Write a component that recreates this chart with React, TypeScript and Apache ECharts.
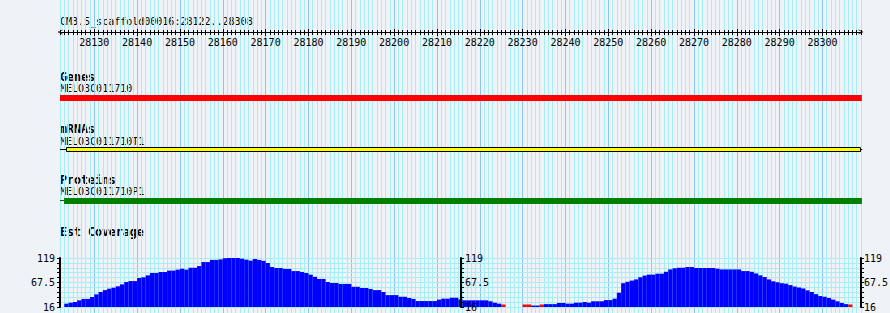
import React, { useEffect, useRef } from 'react';
import * as echarts from 'echarts';

// ---- data ----
const VIEW_START = 28122;
const VIEW_END = 28309;
const rulerTitle = 'CM3.5_scaffold00016:28122..28308';
const rulerMajorStart = 28130;
const rulerMajorEnd = 28300;
const rulerMajorStep = 10;

const coverageMin = 16;
const coverageMax = 119;
const coverageStep = 10.3;
const coverageLabels = ['16', '67.5', '119'];

// EST coverage, one value per bp starting at VIEW_START (null = no data, < min = under range)
const coverage: (number | null)[] = [
  null, 23, 25, 26.5, 30, 33, 33, 37, 42.5, 47.5,
  51.5, 54.5, 56.5, 59.5, 63.5, 68.5, 70.5, 70.5, 77, 78.5,
  82.5, 87.5, 87.5, 89.5, 89.5, 92.5, 92.5, 94.5, 96.5, 94.5,
  98.5, 98.5, 102, 110.5, 110.5, 115, 115, 116, 118.5, 119,
  119, 119, 117.5, 115.5, 113.5, 117, 115, 113, 108.5, 100,
  98, 98, 96, 96, 91.5, 91.5, 89.5, 87.5, 84, 79.5,
  75, 75, 68.5, 66.5, 66.5, 64.5, 64.5, 64.5, 58.5, 58.5,
  56, 56, 54, 51.5, 51.5, 47.5, 41, 41, 41, 37.5,
  37.5, 35, 33, 28.5, 28.5, 28.5, 28.5, 28.5, 31.5, 33.5,
  33.5, 35.5, 35.5, 32, 30, 30, 30, 30, 30, 30,
  28, 25, 23, 10, null, null, null, null, 10, 10,
  19, 19, 10, 22, 22, 22, 24.5, 24.5, 23, 23,
  25, 25, 26.5, 25, 28, 28, 28, 30.5, 30.5, 33.5,
  46, 66, 69, 71.5, 74, 78.5, 82, 84, 84, 86,
  86, 90, 95, 97.5, 98.5, 98.5, 100, 100, 98, 98,
  98, 98, 98, 96.5, 95, 95, 95, 95, 95, 91.5,
  91.5, 90, 86.5, 82.5, 79, 74, 70, 68, 66, 65,
  62, 59, 57, 55, 51, 47.5, 43, 39, 37.5, 35,
  31.5, 28, 24.5, 22, 10, null, null,
];

const geneNames = ['MELO3C011710'];
const geneSpans = [[28122, 28309.2]];
const mrnaNames = ['MELO3C011710T1'];
const mrnaSpans = [[28122, 28309.3]];
const mrnaExons = [[28123.4, 28309]];
const proteinNames = ['MELO3C011710P1'];
const proteinSpans = [[28122, 28309.2]];
const proteinCds = [[28122.95, 28309.2]];

// ---- layout / style ----
const W = 890;
const H = 313;
const PLOT_LEFT = 60;
const PLOT_WIDTH = 801;
const PX_PER_BP = PLOT_WIDTH / (VIEW_END - VIEW_START);
const RULER_Y = 32;
const GENE_Y = 95;
const MRNA_Y = 147;
const PROT_Y = 198;
const COV_TOP = 258;
const COV_H = 49;

const BG = '#eff3f8';
const MINOR = '#a6eef3';
const MAJOR = '#8cc6ee';
const FONT = '"DejaVu Sans Mono", monospace';

const App: React.FC = () => {
  const ref = useRef<HTMLDivElement>(null);
  useEffect(() => {
    if (!ref.current) return;
    const chart = echarts.init(ref.current, undefined, { renderer: 'svg' });

    const gridBase = { left: PLOT_LEFT, width: PLOT_WIDTH, outerBoundsMode: 'none', containLabel: false };
    const majorLeft = PLOT_LEFT + (rulerMajorStart - VIEW_START) * PX_PER_BP;
    const majorWidth = (rulerMajorEnd - rulerMajorStart) * PX_PER_BP;

    const splitColors: string[] = [];
    for (let k = 0; k < 10; k++) splitColors.push(((VIEW_START + k) % 10 === 0) ? MAJOR : MINOR);

    const hiddenLine = { show: false, onZero: false };
    const hidden = { show: false };
    const chevron = 'path://M0,10L5,0L10,10L8.6,10L5,2.8L1.4,10Z';

    const grids: any[] = [
      { ...gridBase, top: 0, height: H }, // 0 background / features
      { ...gridBase, top: RULER_Y, height: 100 }, // 1 ruler line
      { ...gridBase, top: RULER_Y, height: 100 }, // 2 minor up
      { ...gridBase, top: RULER_Y, height: 100 }, // 3 minor down
      { left: majorLeft, width: majorWidth, top: RULER_Y, height: 100, outerBoundsMode: 'none' }, // 4 major up
      { left: majorLeft, width: majorWidth, top: RULER_Y, height: 100, outerBoundsMode: 'none' }, // 5 major down + labels
      { ...gridBase, top: COV_TOP, height: COV_H }, // 6 coverage
    ];

    const baseX = (gridIndex: number, extra: any) => ({
      type: 'value', gridIndex, min: VIEW_START, max: VIEW_END,
      axisLine: hiddenLine, axisTick: hidden, axisLabel: hidden, splitLine: hidden,
      ...extra,
    });

    const xAxes: any[] = [
      baseX(0, {
        interval: 1,
        splitLine: { show: true, lineStyle: { color: splitColors, width: 1 } },
      }),
      baseX(1, {
        position: 'top',
        axisLine: {
          show: true, onZero: false, symbol: [chevron, chevron], symbolSize: [8, 5],
          lineStyle: { color: '#000', width: 1 },
        },
      }),
      baseX(2, { position: 'top', interval: 1, axisTick: { show: true, length: 2, inside: false, lineStyle: { color: '#000' } } }),
      baseX(3, { position: 'top', interval: 1, axisTick: { show: true, length: 3, inside: true, lineStyle: { color: '#000' } } }),
      {
        type: 'value', gridIndex: 4, position: 'top', min: rulerMajorStart, max: rulerMajorEnd, interval: rulerMajorStep,
        axisLine: hiddenLine, axisLabel: hidden, splitLine: hidden,
        axisTick: { show: true, length: 3, inside: false, lineStyle: { color: '#000' } },
      },
      {
        type: 'value', gridIndex: 5, position: 'top', min: rulerMajorStart, max: rulerMajorEnd, interval: rulerMajorStep,
        axisLine: hiddenLine, splitLine: hidden,
        axisTick: { show: true, length: 4, inside: true, lineStyle: { color: '#000' } },
        axisLabel: {
          show: true, inside: true, margin: 5, color: '#000', fontFamily: 'DejaVu Sans Mono', fontSize: 10,
          formatter: (v: number) => String(v),
        },
      },
      baseX(6, {}),
    ];

    const covLabel = (v: number) => {
      const found = coverageLabels.find((l) => Math.abs(parseFloat(l) - v) < 0.01);
      return found || '';
    };
    const covAxisBase = {
      type: 'value', gridIndex: 6, min: coverageMin, max: coverageMax, interval: coverageStep,
      axisLine: { show: true, onZero: false, lineStyle: { color: '#000', width: 2 } },
      axisTick: { show: true, length: 3, lineStyle: { color: '#000' } },
      axisLabel: {
        show: true, color: '#000', fontFamily: 'DejaVu Sans Mono', fontSize: 10,
        formatter: covLabel, showMinLabel: true, showMaxLabel: true,
      },
    };

    const yAxes: any[] = [
      { type: 'value', gridIndex: 0, min: 0, max: H, inverse: true, show: false },
      { type: 'value', gridIndex: 1, min: 0, max: 1, show: false },
      { type: 'value', gridIndex: 2, min: 0, max: 1, show: false },
      { type: 'value', gridIndex: 3, min: 0, max: 1, show: false },
      { type: 'value', gridIndex: 4, min: 0, max: 1, show: false },
      { type: 'value', gridIndex: 5, min: 0, max: 1, show: false },
      {
        ...covAxisBase, position: 'left', z: 1,
        axisLabel: { ...covAxisBase.axisLabel, margin: 5 },
        splitLine: { show: true, lineStyle: { color: MINOR, width: 1 } },
      },
      {
        ...covAxisBase, position: 'right', offset: -(PLOT_WIDTH / 2 - 0.5), z: 5,
        axisLabel: { ...covAxisBase.axisLabel, margin: 4 },
        splitLine: hidden,
      },
      {
        ...covAxisBase, position: 'right', offset: 0, z: 5,
        axisLabel: { ...covAxisBase.axisLabel, margin: 3 },
        splitLine: hidden,
      },
    ];

    const xOf = (api: any, v: number) => api.coord([v, 0])[0];

    const series: any[] = [
      {
        type: 'custom', xAxisIndex: 0, yAxisIndex: 0, clip: false, silent: true,
        data: geneSpans.map((s) => [s[0], s[1]]),
        renderItem: (_p: any, api: any) => {
          const a = xOf(api, api.value(0));
          const b = xOf(api, api.value(1));
          return { type: 'rect', shape: { x: a, y: GENE_Y, width: b - a, height: 6 }, style: { fill: '#ff0000' } };
        },
      },
      {
        type: 'custom', xAxisIndex: 0, yAxisIndex: 0, clip: false, silent: true,
        data: mrnaSpans.map((s, i) => [s[0], s[1], mrnaExons[i][0], mrnaExons[i][1]]),
        renderItem: (_p: any, api: any) => {
          const a = xOf(api, api.value(0));
          const b = xOf(api, api.value(1));
          const c = xOf(api, api.value(2));
          const d = xOf(api, api.value(3));
          return {
            type: 'group',
            children: [
              { type: 'line', shape: { x1: a, y1: MRNA_Y + 2.5, x2: b, y2: MRNA_Y + 2.5 }, style: { stroke: '#000', lineWidth: 1 } },
              { type: 'rect', shape: { x: c + 0.5, y: MRNA_Y + 0.5, width: d - c - 1, height: 4 }, style: { fill: '#ffff00', stroke: '#000', lineWidth: 1 } },
            ],
          };
        },
      },
      {
        type: 'custom', xAxisIndex: 0, yAxisIndex: 0, clip: false, silent: true,
        data: proteinSpans.map((s, i) => [s[0], s[1], proteinCds[i][0], proteinCds[i][1]]),
        renderItem: (_p: any, api: any) => {
          const a = xOf(api, api.value(0));
          const b = xOf(api, api.value(1));
          const c = xOf(api, api.value(2));
          const d = xOf(api, api.value(3));
          return {
            type: 'group',
            children: [
              { type: 'line', shape: { x1: a, y1: PROT_Y + 2.5, x2: b, y2: PROT_Y + 2.5 }, style: { stroke: '#006400', lineWidth: 1 } },
              { type: 'rect', shape: { x: c, y: PROT_Y, width: d - c, height: 6 }, style: { fill: '#008000' } },
            ],
          };
        },
      },
      {
        type: 'custom', xAxisIndex: 6, yAxisIndex: 6, clip: true, silent: true, z: 2,
        encode: { x: 0, y: 1 },
        data: coverage.map((v, i) => [VIEW_START + i, v]).filter((d) => d[1] !== null),
        renderItem: (_p: any, api: any) => {
          const pos = api.value(0);
          const v = api.value(1);
          const x0 = api.coord([pos, coverageMin])[0];
          const x1 = api.coord([pos + 1, coverageMin])[0];
          const yb = api.coord([pos, coverageMin])[1];
          if (v < coverageMin) {
            return { type: 'rect', shape: { x: x0, y: yb - 2.5, width: x1 - x0, height: 2.5 }, style: { fill: '#ff0000' } };
          }
          const yt = api.coord([pos, v])[1];
          return { type: 'rect', shape: { x: x0, y: yt, width: x1 - x0, height: yb - yt }, style: { fill: '#0000ff' } };
        },
      },
    ];

    const txt = (text: string, y: number, bold: boolean) => ({
      type: 'text', x: PLOT_LEFT, y, silent: true,
      style: {
        text, fill: '#000',
        font: bold ? `bold 11.6px ${FONT}` : `10px ${FONT}`,
        verticalAlign: 'middle', align: 'left',
      },
    });

    chart.setOption({
      animation: false,
      backgroundColor: BG,
      grid: grids,
      xAxis: xAxes,
      yAxis: yAxes,
      series,
      graphic: [
        txt(rulerTitle, 21, false),
        txt('Genes', 76.5, true),
        txt(geneNames[0], 88.5, false),
        txt('mRNAs', 129, true),
        txt(mrnaNames[0], 141, false),
        txt('Proteins', 179.5, true),
        txt(proteinNames[0], 191.5, false),
        txt('Est Coverage', 232, true),
      ],
    });
    return () => chart.dispose();
  }, []);

  return (
    <div
      ref={ref}
      style={{ position: 'absolute', left: 0, top: 0, width: W, height: H, background: BG }}
    />
  );
};

export default App;
